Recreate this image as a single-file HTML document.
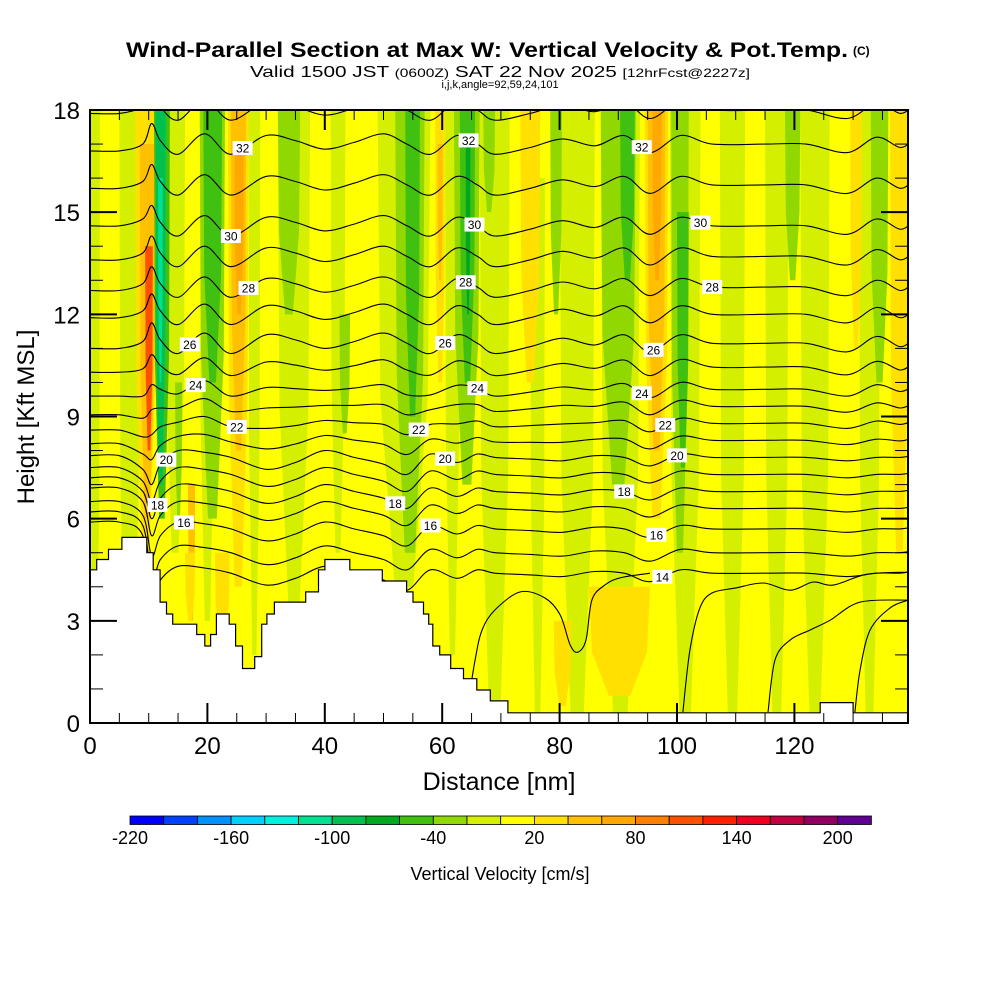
<!DOCTYPE html>
<html><head><meta charset="utf-8"><title>Wind-Parallel Section</title>
<style>
html,body{margin:0;padding:0;background:#fff;}
svg{display:block;font-family:"Liberation Sans",Arial,sans-serif;}
</style></head>
<body>
<svg id="chart" width="1000" height="1000" viewBox="0 0 1000 1000" xmlns="http://www.w3.org/2000/svg">
  <rect x="0" y="0" width="1000" height="1000" fill="#fff"/>
  <text x="126" y="57" font-size="21" font-weight="bold" textLength="722" lengthAdjust="spacingAndGlyphs">Wind-Parallel Section at Max W: Vertical Velocity &amp; Pot.Temp.</text>
  <text x="853" y="55" font-size="12" font-weight="bold">(C)</text>
  <text x="250" y="77" font-size="16" textLength="500" lengthAdjust="spacingAndGlyphs">Valid 1500 JST <tspan font-size="12">(0600Z)</tspan> SAT 22 Nov 2025 <tspan font-size="12">[12hrFcst@2227z]</tspan></text>
  <text x="500" y="88" font-size="11" text-anchor="middle">i,j,k,angle=92,59,24,101</text>
  <defs><clipPath id="plotClip"><rect x="90" y="110" width="818" height="613"/></clipPath></defs>
  <g id="plot" clip-path="url(#plotClip)"></g>
  <g id="axes"></g>
  <g id="cbar"></g>
</svg>
<script>
// ---------- data ----------
const palette = ["#0000ff","#0040ff","#0090ff","#00d0ff","#00f0e0","#00e090","#00c050","#00a820","#40c010","#90d800","#d4f000","#ffff00","#ffe000","#ffc000","#ffa800","#ff8000","#ff5000","#ff2000","#f00020","#c00040","#900060","#600090"];
const cbarTicks = [-220,-160,-100,-40,20,80,140,200];
// vertical-velocity bands: start nm, end nm, top kft, bottom kft, palette index
const bandStart = [0,5,12.8,18.7,27,32,41,49,60.5,66.4,75,80,87,98.8,107.3,115,121,131, 8.5,14.5,18.7,32,52,62,78.4,87,99,118.4,133,67,42.5, 19.3,53.7,63,90.3,100, 7.7,8.5,9.4, 10.9,11.2,11.6,64, 23.5,24,24.6,16.7,58.8,59.2,73.3,94.5,95,95.8,129.5,136.3,85,16.2,21.3,79];
const bandEnd   = [1.7,8.5,16.2,21.3,29,37.5,43.5,58,63,71.5,77.5,86,93.7,104,111.6,119,126,134.6, 10.2,15.7,23,35.8,57,66.4,80.4,93,102,121,136,69,44.3, 22.5,56.2,65.6,92.8,102, 11.3,11,10.7, 13.6,12.9,12.4,64.8, 27,26.6,26.2,17.9,60.5,60.1,76.7,98.5,98,97.4,131.5,139.5,95.4,17.9,23.8,82];
const bandTop   = [18,18,18,18,18,18,18,18,18,18,16,18,18,18,18,18,18,18, 18,10,18,18,18,18,18,18,18,18,18,18,12, 18,18,18,18,15, 18,17,14, 18,18,16,17, 18,18,17,7,18,17,18,18,18,18,18,18,4,5,5,3];
const bandBot   = [0,0,5,3,2,3.5,5,4,2,0,0,0,0,0,0,0,0,0, 6,6,6,12,5,7,12,7,5,13,10,15,8.5, 10,9,10,13,7.5, 5,6,8, 6,7,10,12, 4,8,12,3,10,13,10,6,8,13,11,5,0.8,3,2.5,0.5];
const bandColor = [10,10,10,10,10,10,10,10,10,10,10,10,10,10,10,10,10,10, 9,9,9,9,9,9,9,9,9,9,9,9,9, 8,8,8,8,8, 12,13,16, 8,6,5,7, 12,13,14,13,12,13,12,12,13,14,12,12,12,12,12,12];
// potential temperature contours (K levels)
const levels   = [14,15,16,17,18,19,20,21,22,23,24,25,26,27,28,29,30,31,32,33];
const baseKft  = [4.4,5.0,5.7,6.3,6.8,7.3,7.8,8.3,8.8,9.3,9.8,10.45,11.15,12.0,12.8,13.7,14.6,15.8,17.0,18.0];
const leftKft  = [5.9,6.2,6.5,6.9,7.2,7.5,7.85,8.2,8.6,9.05,9.6,10.3,11.0,11.9,12.7,13.6,14.6,15.7,16.8,17.9];
const stationNm = [0,5,9,10.5,12,15,19.5,24,30,35,40,45,50,54,58,62.5,66,69,75,80.5,86,91,95.4,100.6,106,115,122,129,134,138,140];
const dispUpper = [0,0,0.2,0.6,0.1,-0.3,0.3,-0.3,0.25,0.1,-0.15,0.05,0.3,0,-0.3,0.25,0,-0.3,-0.1,0.15,-0.05,0.25,-0.25,0.25,0,0,0,-0.25,0.2,-0.1,0.1];
const dispLower = [0,0,-0.3,-0.8,-0.2,0.2,0.15,0,-0.35,-0.15,0.2,0,-0.2,-0.5,0.1,-0.15,0.1,0,-0.05,-0.1,0.05,0,-0.25,0.1,0,0,0,-0.1,0,0,0.05];
// extra low-level contour segments (nm, kft)
const domeANm = [101.0,102.2,103.9,106.0,109.9,114.7,119.3,123.2,126.6,132.4,139.4];
const domeAKft = [0.32,2.14,3.38,3.82,3.96,4.11,3.9,4.14,4.05,4.37,4.43];
const domeBNm = [115.5,116.7,119.3,122.7,126.1,131.2,139.4];
const domeBKft = [0.32,1.85,2.44,2.73,3.02,3.55,3.61];
const domeCNm = [64.2,65.6,66.8,69.0,73.3,77.5,80.1,81.8,83.1,84.5,85.5,87.7,90.3,95.4];
const domeCKft = [0.32,1.85,2.73,3.32,3.85,3.67,3.17,2.29,2.08,2.44,3.61,4.05,4.26,4.4];
const domeDNm = [130.3,131.2,132.9,136.3,139.4];
const domeDKft = [0.32,1.56,2.73,3.38,3.61];
// contour labels
const labelLevel = [32,30,28,26,24,22,20,18,16, 32,30,28,26,24,22,20,18,16, 32,30,28,26,24,22,20,18,16,14];
const labelNm    = [26,24,27,17,18,25,13,11.5,16, 64.5,65.5,64,60.5,66,56,60.5,52,58, 94,104,106,96,94,98,100,91,96.5,97.5];
// terrain steps
const terrNm  = [0,1.14,3.16,5.43,9.68,10.77,11.95,13.04,14.09,18.18,19.56,20.55,21.54,23.71,24.8,25.98,28.06,29.25,30.13,31.42,36.75,38.93,40.01,44.26,49.8,53.94,55.03,56.81,57.7,58.4,59.57,61.45,63.63,65.9,68.2,71.2,124.4,130.0,140];
const terrKft = [4.5,4.8,5.1,5.45,5.0,4.5,3.55,3.2,2.9,2.6,2.26,2.6,3.2,2.9,2.26,1.6,1.95,2.9,3.2,3.55,3.85,4.5,4.8,4.5,4.17,3.85,3.55,3.2,2.9,2.26,2.0,1.6,1.3,0.97,0.65,0.3,0.6,0.3,0.3];
const xTicks = [0,20,40,60,80,100,120];
const yTicks = [0,3,6,9,12,15,18];

// ---------- scales ----------
const NS="http://www.w3.org/2000/svg";
const X0=90, X1=908, Y0=723, Y1=110;
const X = nm => X0 + nm*5.87;
const Y = k => Y0 - k*(Y0-Y1)/18;
function mk(tag, attrs, parent){const e=document.createElementNS(NS,tag);for(const k in attrs)e.setAttribute(k,attrs[k]);parent.appendChild(e);return e;}
const plot=document.getElementById('plot'), axes=document.getElementById('axes'), cbar=document.getElementById('cbar');

const bg = mk('rect',{x:X0,y:Y1,width:X1-X0,height:Y0-Y1,fill:palette[11]},plot);


for(let i=0;i<bandStart.length;i++){
  const xa=X(bandStart[i]), xb=X(bandEnd[i]), c=(xa+xb)/2, hw=(xb-xa)/2;
  const yt=Y(bandTop[i]), yb=Y(bandBot[i]);
  const pts=[[xa,yt],[xb,yt],[c+hw*0.9,yt+(yb-yt)*0.6],[c+hw*0.35,yb],[c-hw*0.35,yb],[c-hw*0.9,yt+(yb-yt)*0.6]];
  const p=mk('polygon',{points:pts.map(q=>q.join(',')).join(' '),fill:palette[bandColor[i]]},plot);
  
  
}
function smoothPath(pts){
  let d='M'+pts[0][0].toFixed(1)+','+pts[0][1].toFixed(1);
  for(let i=0;i<pts.length-1;i++){
    const p0=pts[Math.max(0,i-1)],p1=pts[i],p2=pts[i+1],p3=pts[Math.min(pts.length-1,i+2)];
    const c1=[p1[0]+(p2[0]-p0[0])/6,p1[1]+(p2[1]-p0[1])/6];
    const c2=[p2[0]-(p3[0]-p1[0])/6,p2[1]-(p3[1]-p1[1])/6];
    d+=' C'+c1[0].toFixed(1)+','+c1[1].toFixed(1)+' '+c2[0].toFixed(1)+','+c2[1].toFixed(1)+' '+p2[0].toFixed(1)+','+p2[1].toFixed(1);
  }
  return d;
}
function levelHeight(li, s){
  const L=levels[li];
  const wU=Math.max(0,Math.min(1,(L-20)/6)), wL=1-wU;
  const h=baseKft[li]+dispUpper[s]*wU+dispLower[s]*wL;
  const nm=stationNm[s];
  if(nm<=5) return leftKft[li];
  if(nm<=9) return leftKft[li]-0.4*wL+0.2*wU;
  return h;
}
function heightAt(li, nm){
  for(let s=0;s<stationNm.length-1;s++){
    if(nm>=stationNm[s]&&nm<=stationNm[s+1]){
      const t=(nm-stationNm[s])/(stationNm[s+1]-stationNm[s]);
      return levelHeight(li,s)*(1-t)+levelHeight(li,s+1)*t;
    }
  }
  return baseKft[li];
}
for(let li=0;li<levels.length;li++){
  const pts=stationNm.map((nm,s)=>[X(nm),Y(levelHeight(li,s))]);
  const path=mk('path',{d:smoothPath(pts),fill:'none',stroke:'#000','stroke-width':1.1},plot);
  
  
}
[[domeANm,domeAKft],[domeBNm,domeBKft],[domeCNm,domeCKft],[domeDNm,domeDKft]].forEach(([ns,ks])=>{
  const pts=ns.map((n,i)=>[X(n),Y(ks[i])]);
  const path=mk('path',{d:smoothPath(pts),fill:'none',stroke:'#000','stroke-width':1.1},plot);
  
  
});
let tp=[[X(terrNm[0]),Y0+5]];
for(let i=0;i<terrNm.length-1;i++){tp.push([X(terrNm[i]),Y(terrKft[i])]);tp.push([X(terrNm[i+1]),Y(terrKft[i])]);}
tp.push([X(terrNm[terrNm.length-1]),Y0+5]);
const terr=mk('polygon',{points:tp.map(q=>q[0].toFixed(1)+','+q[1].toFixed(1)).join(' '),fill:'#fff',stroke:'#000','stroke-width':1.2},plot);


for(let i=0;i<labelLevel.length;i++){
  const li=levels.indexOf(labelLevel[i]);
  const x=X(labelNm[i]), y=Y(heightAt(li,labelNm[i]));
  const g=mk('g',{},plot);
  
  
  mk('rect',{x:x-10,y:y-7,width:20,height:14,fill:'#fff'},g);
  const t=mk('text',{x:x,y:y+4.5,'font-size':12,'text-anchor':'middle',fill:'#000'},g);
  t.textContent=labelLevel[i];
}
const fr=mk('rect',{x:X0,y:Y1,width:X1-X0,height:Y0-Y1,fill:'none',stroke:'#000','stroke-width':2},axes);


for(let nm=0;nm<=139;nm+=5){
  const major=nm%20===0, len=major?20:10, x=X(nm);
  mk('line',{x1:x,y1:Y0,x2:x,y2:Y0-len,stroke:'#000','stroke-width':major?2:1},axes);
  mk('line',{x1:x,y1:Y1,x2:x,y2:Y1+len,stroke:'#000','stroke-width':major?2:1},axes);
}
for(let k=0;k<=18;k++){
  const major=k%3===0, len=major?27:13, y=Y(k);
  mk('line',{x1:X0,y1:y,x2:X0+len,y2:y,stroke:'#000','stroke-width':major?2:1},axes);
  mk('line',{x1:X1,y1:y,x2:X1-len,y2:y,stroke:'#000','stroke-width':major?2:1},axes);
}
xTicks.forEach(v=>{
  const t=mk('text',{x:X(v),y:754,'font-size':24,'text-anchor':'middle'},axes);
  t.textContent=v;
  
  
});
yTicks.forEach(v=>{
  const t=mk('text',{x:80,y:Y(v)+9,'font-size':24,'text-anchor':'end'},axes);
  t.textContent=v;
  
  
});
const xt=mk('text',{x:499,y:790,'font-size':25,'text-anchor':'middle'},axes);
xt.textContent='Distance [nm]';


const yt=mk('text',{x:0,y:0,'font-size':24,'text-anchor':'middle',transform:'translate(34,417) rotate(-90)'},axes);
yt.textContent='Height [Kft MSL]';


const cw=33.7, cx0=130;
palette.forEach((c,i)=>{
  const r=mk('rect',{x:cx0+i*cw,y:816,width:cw,height:8.5,fill:c,stroke:'#000','stroke-width':0.8},cbar);
  
  
});
cbarTicks.forEach(v=>{
  const i=(v+220)/20;
  const t=mk('text',{x:cx0+i*cw,y:844,'font-size':18,'text-anchor':'middle'},cbar);
  t.textContent=v;
  
  
});
const ct=mk('text',{x:500,y:880,'font-size':18,'text-anchor':'middle'},cbar);
ct.textContent='Vertical Velocity [cm/s]';


</script>
</body></html>
